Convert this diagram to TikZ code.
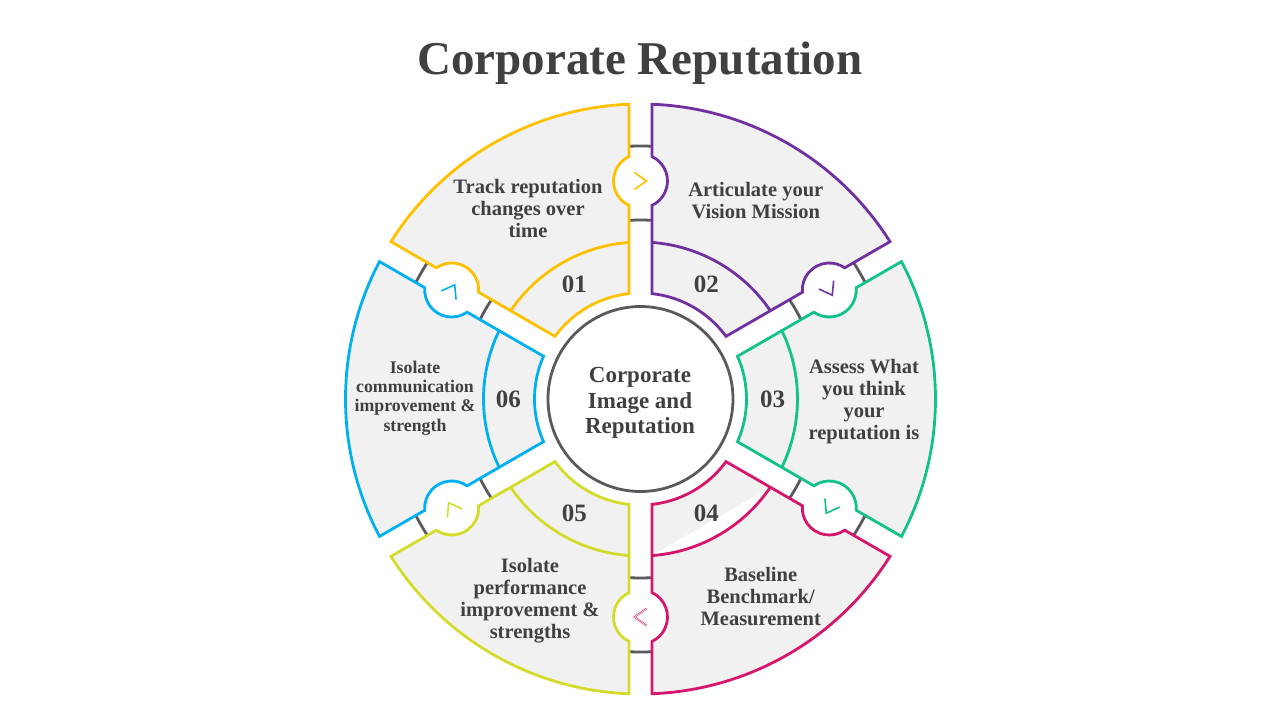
\documentclass[tikz,border=0pt]{standalone}
\usepackage{fontspec}
\setmainfont{Liberation Serif}
\usetikzlibrary{calc}
\definecolor{cA}{HTML}{FFC000}
\definecolor{cB}{HTML}{7030A0}
\definecolor{cC}{HTML}{12C28A}
\definecolor{cD}{HTML}{D6156C}
\definecolor{cE}{HTML}{D4DC2B}
\definecolor{cF}{HTML}{00B0F0}
\definecolor{secfill}{HTML}{F1F1F1}
\definecolor{gline}{HTML}{5A5A5E}
\definecolor{txt}{HTML}{404040}
\newcommand\secprep[1]{%
  \pgfmathsetmacro\ta{#1}%
  \pgfmathsetmacro\tb{#1+60}%
  \pgfmathsetmacro\sA{#1+154.79}%
  \pgfmathsetmacro\eA{#1+25.21}%
  \pgfmathsetmacro\oS{#1+2.234}%
  \pgfmathsetmacro\oE{#1+60-2.234}%
  \pgfmathsetmacro\sB{#1+60-25.21}%
  \pgfmathsetmacro\eB{#1+60-154.79}%
  \pgfmathsetmacro\iS{#1+60-6.228}%
  \pgfmathsetmacro\iE{#1+6.228}%
  \pgfmathsetmacro\mS{#1+4.2}%
  \pgfmathsetmacro\mE{#1+60-4.2}%
  \pgfmathsetmacro\ap{#1+90}%
  \pgfmathsetmacro\am{#1+60-90}%
  \pgfmathsetmacro\tg{#1-90}}
\newcommand\secpath{(\iE:106pt) -- ($(\ta:193.57pt)+(\ap:11.5pt)$)
  arc[start angle=\sA, end angle=\eA, radius=27pt] -- (\oS:295pt)
  arc[start angle=\oS, end angle=\oE, radius=295pt] -- ($(\tb:242.43pt)+(\am:11.5pt)$)
  arc[start angle=\sB, end angle=\eB, radius=27pt] -- (\iS:106pt)
  arc[start angle=\iS, end angle=\iE, radius=106pt] -- cycle}
\begin{document}
\begin{tikzpicture}[x=1pt,y=1pt,
  outline/.style={line width=2.8pt, line join=miter},
  grayline/.style={draw=gline, line width=2.8pt},
  chev/.style={line width=1.6pt, line cap=butt, line join=miter},
  sectext/.style={align=center, text=txt, font=\bfseries\fontsize{20.5}{22}\selectfont},
  smalltext/.style={align=center, text=txt, font=\bfseries\fontsize{17.8}{19.2}\selectfont},
  numtext/.style={text=txt, font=\bfseries\fontsize{25}{28}\selectfont},
  centertext/.style={align=center, text=txt, font=\bfseries\fontsize{23}{25.5}\selectfont},
  titletext/.style={text=txt, font=\bfseries\fontsize{47}{52}\selectfont}]
\useasboundingbox (-640.5,-321) rectangle (639.5,399);
\fill[white] (-640.5,-321) rectangle (639.5,399);
% gray connector rings (visible only in the gaps)
\draw[grayline] (0,0) circle[radius=179pt];
\draw[grayline] (0,0) circle[radius=253pt];
% sector fills
\foreach \s in {90,30,-30,-90,210,150}{
  \secprep{\s}
  \fill[secfill] \secpath;
}
% white sliver in sector 04
\fill[white] (-85.8:157pt) arc[start angle=-85.8, end angle=-34.2, radius=157pt] -- cycle;
% sector outlines, middle arcs, chevrons
\foreach \s/\col in {90/cA,30/cB,-30/cC,-90/cD,210/cE,150/cF}{
  \secprep{\s}
  \draw[outline, draw=\col] \secpath;
  \draw[outline, draw=\col] (\mS:157pt) arc[start angle=\mS, end angle=\mE, radius=157pt];
  \draw[chev, draw=\col] ($(\ta:218pt)+(\tg:-6pt)+(\ta:8.5pt)$) -- ($(\ta:218pt)+(\tg:6pt)$) -- ($(\ta:218pt)+(\tg:-6pt)+(\ta:-8.5pt)$);
}
% hollow look of the pink chevron
\secprep{-90}
\draw[line width=0.5pt, white] ($(\ta:218pt)+(\tg:-6pt)+(\ta:8.5pt)$) -- ($(\ta:218pt)+(\tg:6pt)$) -- ($(\ta:218pt)+(\tg:-6pt)+(\ta:-8.5pt)$);
% center circle
\node[circle, draw=gline, line width=2.8pt, fill=white, minimum size=185pt, inner sep=0pt] (hub) at (0,0) {};
\node[centertext] (hubtext) at (-0.5,-4) {Corporate\\Image and\\Reputation};
% title
\node[titletext, anchor=base] (title) at (-0.5,324) {Corporate Reputation};
% numbers
\node[numtext] (n1) at (120:132pt) {01};
\node[numtext] (n2) at (60:132pt) {02};
\node[numtext] (n3) at (0:132pt) {03};
\node[numtext] (n4) at (-60:132pt) {04};
\node[numtext] (n5) at (240:132pt) {05};
\node[numtext] (n6) at (180:132pt) {06};
% sector texts
\node[sectext] (t1) at (-112.5,191) {Track reputation\\changes over\\time};
\node[sectext] (t2) at (115.3,198.5) {Articulate your\\Vision Mission};
\node[sectext] (t3) at (223.5,-3) {Assess What\\you think\\your\\reputation is};
\node[sectext] (t4) at (120.2,-197.7) {Baseline\\Benchmark/\\Measurement};
\node[sectext] (t5) at (-110.5,-202) {Isolate\\performance\\improvement \&\\strengths};
\node[smalltext] (t6) at (-225.5,1) {Isolate\\communication\\improvement \&\\strength};
\end{tikzpicture}
\end{document}
